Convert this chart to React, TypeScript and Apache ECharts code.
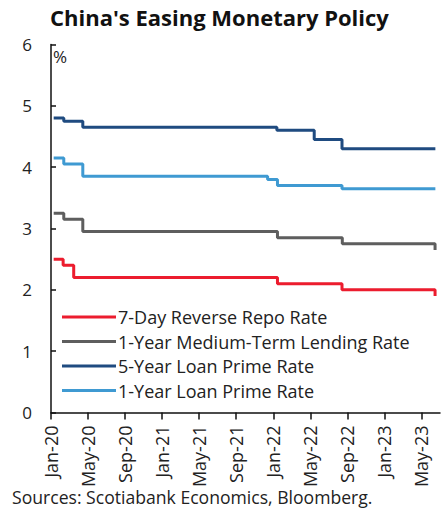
import React, { useEffect, useRef } from "react";
import * as echarts from "echarts";

// Policy rate change dates and the level that applies from each date (%).
const repoDates = ["2020-01-10", "2020-02-10", "2020-03-15", "2022-01-15", "2022-08-14", "2023-06-15", "2023-06-16"];
const repoValues = [2.5, 2.4, 2.2, 2.1, 2.0, 1.9, 1.9];

const mlfDates = ["2020-01-10", "2020-02-12", "2020-04-14", "2022-01-15", "2022-08-15", "2023-06-15", "2023-06-16"];
const mlfValues = [3.25, 3.15, 2.95, 2.85, 2.75, 2.65, 2.65];

const lpr5Dates = ["2020-01-10", "2020-02-12", "2020-04-14", "2022-01-13", "2022-05-14", "2022-08-14", "2023-06-16"];
const lpr5Values = [4.8, 4.75, 4.65, 4.6, 4.45, 4.3, 4.3];

const lpr1Dates = ["2020-01-10", "2020-02-12", "2020-04-14", "2021-12-13", "2022-01-15", "2022-08-14", "2023-06-16"];
const lpr1Values = [4.15, 4.05, 3.85, 3.8, 3.7, 3.65, 3.65];

const seriesNames = [
  "7-Day Reverse Repo Rate",
  "1-Year Medium-Term Lending Rate",
  "5-Year Loan Prime Rate",
  "1-Year Loan Prime Rate",
];
const seriesColors = ["#EC1C2E", "#5E5E5E", "#1F4B80", "#3F9AD2"];

const tickLabels = ["Jan-20", "May-20", "Sep-20", "Jan-21", "May-21", "Sep-21", "Jan-22", "May-22", "Sep-22", "Jan-23", "May-23"];

const FONT = "'Open Sans', 'Noto Sans', sans-serif";

// Months elapsed since 1 Jan 2020, with the day as a fraction of its month.
function monthPos(d: string): number {
  const [y, m, dd] = d.split("-").map(Number);
  const daysInMonth = new Date(y, m, 0).getDate();
  return (y - 2020) * 12 + (m - 1) + (dd - 1) / daysInMonth;
}

function toPoints(dates: string[], values: number[]) {
  return dates.map((d, i) => [monthPos(d), values[i]]);
}

export default function App() {
  const ref = useRef<HTMLDivElement>(null);

  useEffect(() => {
    if (!ref.current) return;
    const chart = echarts.init(ref.current, null, { renderer: "svg" });
    const tickValues = tickLabels.map((_, i) => i * 4);
    const allData = [
      toPoints(repoDates, repoValues),
      toPoints(mlfDates, mlfValues),
      toPoints(lpr5Dates, lpr5Values),
      toPoints(lpr1Dates, lpr1Values),
    ];

    chart.setOption({
      animation: false,
      backgroundColor: "#ffffff",
      textStyle: { fontFamily: FONT },
      grid: { left: 51, right: 8, top: 44.5, bottom: 102.5, containLabel: false },
      xAxis: {
        type: "value",
        min: 0,
        max: 42,
        axisLine: { show: true, lineStyle: { color: "#111", width: 1.5 } },
        axisTick: { show: true, inside: false, length: 7, customValues: tickValues, lineStyle: { color: "#111", width: 1.5 } },
        splitLine: { show: false },
        axisLabel: {
          customValues: tickValues,
          rotate: 90,
          margin: 13,
          fontSize: 18,
          color: "#222",
          fontFamily: FONT,
          formatter: (v: number) => tickLabels[Math.round(v / 4)] ?? "",
        },
      },
      yAxis: {
        type: "value",
        min: 0,
        max: 6,
        interval: 1,
        axisLine: { show: true, lineStyle: { color: "#111", width: 1.5 } },
        axisTick: { show: true, inside: true, length: 5, lineStyle: { color: "#111", width: 1.5 } },
        splitLine: { show: false },
        axisLabel: { margin: 19, fontSize: 17, color: "#222", fontFamily: FONT },
      },
      legend: {
        orient: "vertical",
        left: 62,
        top: 307,
        padding: 0,
        itemWidth: 54,
        itemHeight: 3,
        itemGap: 4.5,
        icon: "rect",
        textStyle: { fontSize: 18, color: "#222", fontFamily: FONT, lineHeight: 20, padding: [0, 0, 0, -3] },
        data: seriesNames,
      },
      series: seriesNames.map((name, i) => ({
        name,
        type: "line",
        step: "end",
        symbol: "none",
        color: seriesColors[i],
        lineStyle: { width: 3, color: seriesColors[i] },
        data: allData[i],
      })),
      graphic: [
        {
          type: "text",
          left: 50,
          top: 6,
          style: { text: "China's Easing Monetary Policy", font: `bold 22px ${FONT}`, fill: "#111" },
        },
        {
          type: "text",
          left: 53,
          top: 48,
          style: { text: "%", font: `17px ${FONT}`, fill: "#222" },
        },
        {
          type: "text",
          left: 12,
          top: 488,
          style: { text: "Sources: Scotiabank Economics, Bloomberg.", font: `17.6px ${FONT}`, fill: "#222" },
        },
      ],
    });

    return () => chart.dispose();
  }, []);

  return <div ref={ref} style={{ position: "absolute", left: 0, top: 0, width: 448, height: 515 }} />;
}
